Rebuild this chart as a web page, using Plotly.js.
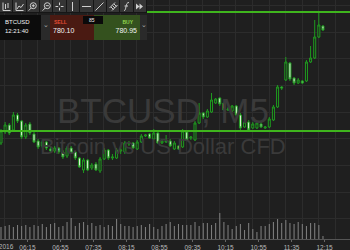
<!DOCTYPE html>
<html><head><meta charset="utf-8">
<script src="https://cdn.plot.ly/plotly-3.0.1.min.js"></script>
<style>
html,body{margin:0;padding:0;background:#1f1f1f;width:350px;height:250px;overflow:hidden;font-family:"Liberation Sans",Arial,sans-serif;}
#chart{position:absolute;left:0;top:0;width:350px;height:250px;}
#tb{position:absolute;left:0;top:0;height:13px;width:147px;display:flex;background:#161616;z-index:5;}
.b{width:12.4px;height:12px;margin-right:1px;background:#353535;display:flex;align-items:center;justify-content:center;}
.b svg{width:9px;height:9px;}
.p{position:absolute;top:15px;height:25px;z-index:5;}
.t{position:absolute;white-space:nowrap;}
</style>
</head><body>
<div id="chart"></div>
<div id="tb">
 <div class="b"><svg viewBox="0 0 9 9" fill="none" stroke="#cfcfcf" stroke-width="1"><path d="M1 0.5V8.5H8.5"/><path d="M3.5 2V7M6 1V6"/></svg></div>
 <div class="b"><svg viewBox="0 0 9 9" fill="none" stroke="#cfcfcf" stroke-width="1"><path d="M1 0.5V8.5H8.5"/><path d="M2 7L4 4L6 5.5L8.5 2"/></svg></div>
 <div class="b"><svg viewBox="0 0 9 9" fill="none" stroke="#cfcfcf" stroke-width="1"><circle cx="5.3" cy="3.7" r="3"/><path d="M3.2 6L0.6 8.6M5.3 2.2V5.2M3.8 3.7H6.8"/></svg></div>
 <div class="b"><svg viewBox="0 0 9 9" fill="none" stroke="#cfcfcf" stroke-width="1"><circle cx="5.3" cy="3.7" r="3"/><path d="M3.2 6L0.6 8.6M3.8 3.7H6.8"/></svg></div>
 <div class="b"><svg viewBox="0 0 9 9" fill="none" stroke="#cfcfcf" stroke-width="1"><path d="M4.5 0.5V3.2M4.5 5.8V8.5M0.5 4.5H3.2M5.8 4.5H8.5"/></svg></div>
 <div class="b"><svg viewBox="0 0 9 9" fill="none" stroke="#cfcfcf" stroke-width="1"><path d="M4.5 0V9"/></svg></div>
 <div class="b"><svg viewBox="0 0 9 9" fill="none" stroke="#cfcfcf" stroke-width="1"><path d="M0 4.5H9"/></svg></div>
 <div class="b"><svg viewBox="0 0 9 9" fill="none" stroke="#cfcfcf" stroke-width="1"><path d="M0.5 8.5L8.5 0.5"/></svg></div>
 <div class="b"><svg viewBox="0 0 9 9" fill="none" stroke="#cfcfcf" stroke-width="1"><path d="M0.5 6L6 0.5M3 8.5L8.5 3M2 5L4.5 7.5M3.5 3.5L6 6M5 2L7.5 4.5"/></svg></div>
 <div class="b"><svg viewBox="0 0 9 9" fill="none" stroke="#cfcfcf" stroke-width="1"><path d="M2 8.5C3.5 8.5 3.5 7 4 4.5S5 0.5 7 0.5M2.5 4H6"/></svg></div>
 <div class="b"><svg viewBox="0 0 9 9" fill="#cfcfcf" stroke="none"><path d="M1 1.5L4.5 4.5L1 7.5Z M4.5 1.5L8 4.5L4.5 7.5Z"/></svg></div>
</div>
<div class="p" style="left:0;width:41px;background:#0c0c0c;color:#f2f2f2;font-size:6px;">
 <div class="t" style="left:5px;top:4px;">BTCUSD</div>
 <div class="t" style="left:5px;top:13px;">12:21:40</div>
</div>
<div class="p" style="left:41px;width:9px;background:#2a2a2a;color:#aaa;font-size:7px;"><div class="t" style="left:2px;top:6px;">&#8964;</div></div>
<div class="p" style="left:50px;width:44px;background:#4a1a12;">
 <div class="t" style="left:4px;top:4px;font-size:5px;font-weight:bold;color:#e04a32;">SELL</div>
 <div class="t" style="left:3px;top:12px;font-size:7px;color:#f2f2f2;">780.10</div>
</div>
<div class="p" style="left:94px;width:46px;background:#34511e;">
 <div class="t" style="right:7px;top:4px;font-size:5px;font-weight:bold;color:#8fd44e;">BUY</div>
 <div class="t" style="right:3px;top:12px;font-size:7px;color:#f2f2f2;">780.95</div>
</div>
<div class="p" style="left:140px;width:7px;background:#2a2a2a;color:#aaa;font-size:7px;"><div class="t" style="left:1px;top:6px;">&#8964;</div></div>
<div class="p" style="left:83px;top:16px;width:20px;height:8px;background:#0a0a0a;color:#f2f2f2;font-size:5px;z-index:6;"><div class="t" style="left:6px;top:1px;">85</div></div>
<script>
const openP  = [773.14,773.80,774.22,773.92,774.82,774.46,773.50,774.28,773.68,773.26,772.96,773.20,772.78,772.66,772.84,772.60,772.36,772.84,772.60,772.24,771.52,772.12,771.64,771.88,771.46,772.18,772.72,772.24,772.24,772.66,772.60,773.08,773.14,772.78,773.20,773.56,773.68,773.38,773.74,773.14,773.20,773.26,772.78,772.96,772.90,773.80,773.44,773.32,774.34,774.94,774.70,775.00,775.54,775.84,775.54,775.12,775.06,775.36,774.82,774.10,774.40,774.04,774.04,774.28,774.04,774.10,774.52,775.30,776.50,776.92,777.94,777.04,776.74,776.86,776.86,778.00,778.24,779.50,780.16];
const highP  = [773.98,774.40,774.34,775.00,774.94,774.52,774.34,774.40,773.80,773.38,773.32,773.26,772.90,772.96,772.90,772.72,772.96,772.96,772.66,772.30,772.24,772.18,771.94,772.00,772.30,772.84,772.78,772.48,772.84,772.96,773.26,773.26,773.20,773.32,773.68,773.68,773.74,773.98,773.80,773.38,773.62,773.38,773.26,773.02,773.98,773.86,773.56,774.46,775.54,775.00,775.18,776.14,775.84,775.90,775.60,775.30,775.42,775.42,774.94,774.52,774.52,774.40,774.46,774.40,774.16,774.70,775.42,776.62,776.56,778.30,778.00,777.10,777.04,776.92,778.12,778.96,780.52,781.00,780.22];
const lowP   = [773.02,773.68,773.62,773.80,774.34,773.38,773.38,773.62,773.14,772.78,772.84,772.72,772.60,772.54,772.48,772.18,772.24,772.48,772.12,771.64,771.34,771.46,771.52,771.46,771.34,772.12,772.12,772.12,772.18,772.48,772.48,772.96,772.78,772.72,773.14,773.50,773.38,773.32,773.08,773.08,773.14,772.90,772.72,772.72,772.84,773.26,773.32,773.26,774.28,774.58,774.64,774.94,775.48,775.36,775.06,775.06,775.00,774.76,773.92,774.04,773.86,773.98,773.98,774.04,773.98,774.04,774.46,775.24,776.32,776.86,776.86,776.62,776.68,776.68,776.80,777.94,778.18,779.44,779.86];
const closeP = [773.86,774.22,773.74,774.82,774.46,773.50,774.22,773.74,773.20,772.90,773.20,772.84,772.66,772.84,772.60,772.30,772.84,772.54,772.24,771.70,772.12,771.52,771.82,771.52,772.18,772.72,772.24,772.30,772.72,772.72,773.14,773.14,772.84,773.20,773.56,773.62,773.44,773.74,773.14,773.26,773.26,772.96,773.14,772.78,773.86,773.32,773.50,774.34,774.94,774.70,775.06,775.72,775.78,775.48,775.12,775.18,775.36,774.82,774.04,774.40,773.92,774.28,774.34,774.10,774.10,774.58,775.30,776.50,776.44,778.00,776.98,776.74,776.92,776.74,778.00,778.24,779.50,780.22,779.92];
const volume = [120,130,140,120,140,130,140,120,140,130,150,120,150,160,120,130,170,210,130,160,170,140,160,130,140,120,140,130,200,150,130,130,120,130,140,120,150,120,100,130,150,170,130,150,140,140,140,170,130,160,160,140,160,260,170,140,100,130,150,90,160,100,70,130,130,150,170,200,160,190,160,150,170,150,130,160,160,140,30];
const tickLabels = ['06:15','06:55','07:35','08:15','08:55','09:35','10:15','10:55','11:35','12:15'];
const dateLabel = '5 Dec 2016';
const levels = [781.00, 773.86];

const idx = openP.map((_, i) => i);
const xr = [-0.242, 84.55];
const tickPos = tickLabels.map((_, k) => 6.4 + 8 * k);

const candle = {
  type: 'candlestick', x: idx, open: openP, high: highP, low: lowP, close: closeP,
  xaxis: 'x', yaxis: 'y', hoverinfo: 'skip',
  increasing: {line: {color: '#1f9a1f', width: 1}, fillcolor: '#1f1f1f'},
  decreasing: {line: {color: '#1f9a1f', width: 1}, fillcolor: '#eaf6e4'},
  whiskerwidth: 0
};
const vol = {
  type: 'bar', x: idx, y: volume, xaxis: 'x2', yaxis: 'y2', width: 0.26,
  marker: {color: '#7c7c7c', line: {width: 0}}, hoverinfo: 'skip'
};
const layout = {
  width: 350, height: 250, margin: {l: 0, r: 0, t: 0, b: 11},
  paper_bgcolor: '#1f1f1f', plot_bgcolor: '#1f1f1f', showlegend: false,
  xaxis: {range: xr, showgrid: true, gridcolor: '#2c2c2c', gridwidth: 1, tick0: 0.93, dtick: 4,
          showticklabels: false, ticks: '', zeroline: false, rangeslider: {visible: false}, fixedrange: true},
  yaxis: {range: [767.38, 781.72], showgrid: true, gridcolor: '#2c2c2c', tick0: 779.8, dtick: 1.6,
          showticklabels: false, ticks: '', zeroline: false, fixedrange: true},
  xaxis2: {overlaying: 'x', range: xr, side: 'bottom', showgrid: false, zeroline: false,
           tickmode: 'array', tickvals: tickPos, ticktext: tickLabels, ticks: 'outside', ticklen: 2,
           tickcolor: '#666', showline: true, linecolor: '#555', linewidth: 1,
           tickfont: {family: 'Liberation Sans, Arial, sans-serif', size: 6.5, color: '#b8b8b8'}},
  yaxis2: {overlaying: 'y', range: [0, 2390], visible: false, fixedrange: true},
  shapes: levels.map(v => ({type: 'line', xref: 'paper', x0: 0, x1: 1, yref: 'y', y0: v, y1: v,
                            line: {color: '#3fb51d', width: 2}, layer: 'above'})),
  annotations: [
    {xref: 'paper', yref: 'paper', x: 0.466, y: 0.536, text: 'BTCUSD, M5', showarrow: false,
     font: {family: 'Liberation Sans, Arial, sans-serif', size: 35, color: '#3a3a3a'}},
    {xref: 'paper', yref: 'paper', x: 0.466, y: 0.385, text: 'Bitcoin vs US Dollar CFD', showarrow: false,
     font: {family: 'Liberation Sans, Arial, sans-serif', size: 22, color: '#3a3a3a'}},
    {xref: 'paper', yref: 'paper', x: 16/350, y: -0.03, xanchor: 'right', yanchor: 'middle', text: dateLabel,
     showarrow: false, font: {family: 'Liberation Sans, Arial, sans-serif', size: 6.5, color: '#b8b8b8'}}
  ]
};
Plotly.newPlot('chart', [vol, candle], layout, {staticPlot: true, displayModeBar: false});
</script>
</body></html>
